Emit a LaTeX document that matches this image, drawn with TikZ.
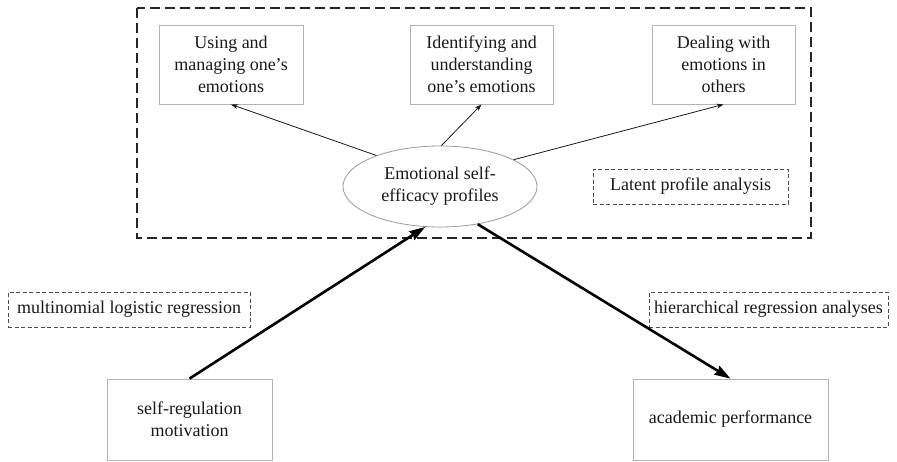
\documentclass[tikz,border=0pt]{standalone}
\usepackage{fontspec}
\setmainfont{Liberation Serif}
\usetikzlibrary{arrows.meta,shapes.geometric}
\begin{document}
\begin{tikzpicture}[x=1pt,y=-1pt,
  txt/.style={font=\fontsize{18}{22}\selectfont, text=black!90, align=center, inner sep=0pt},
  greybox/.style={txt, draw=black!30, line width=0.8pt, rectangle},
  methodbox/.style={txt, draw=black!70, line width=0.8pt, dash pattern=on 4pt off 2.5pt, rectangle},
  thinarrow/.style={draw=black!90, line width=0.8pt, -{Stealth[length=7pt,width=5pt]}},
  thickarrow/.style={draw=black, line width=2.6pt, -{Stealth[length=16pt,width=10pt,inset=1.5pt]}}]
\useasboundingbox (0,0) rectangle (897,461);
% outer dashed frame
\draw[black!85, line width=2pt, dash pattern=on 10pt off 5pt] (137,8) rectangle (811,238);
% top boxes
\node[greybox, minimum width=144pt, minimum height=79pt] (b1) at (231,64.5) {Using and\\managing one’s\\emotions};
\node[greybox, minimum width=143pt, minimum height=79pt] (b2) at (481.5,64.5) {Identifying and\\understanding\\one’s emotions};
\node[greybox, minimum width=143pt, minimum height=79pt] (b3) at (723.5,64.5) {Dealing with\\emotions in\\others};
% ellipse
\node[txt, ellipse, draw=black!40, line width=0.8pt, minimum width=194pt, minimum height=81pt] (e) at (440,186.5) {Emotional self-\\efficacy profiles};
% method labels
\node[methodbox, minimum width=195pt, minimum height=35pt] (lpa) at (690.5,186.5) {Latent profile analysis};
\node[methodbox, minimum width=242pt, minimum height=35pt] (mlr) at (129,309.5) {multinomial logistic regression};
\node[methodbox, minimum width=239pt, minimum height=35pt] (hra) at (768.5,309.5) {hierarchical regression analyses};
% bottom boxes
\node[greybox, minimum width=165pt, minimum height=81pt] (sr) at (189.5,419.5) {self-regulation\\motivation};
\node[greybox, minimum width=195pt, minimum height=81pt] (ap) at (730.5,419.5) {academic performance};
% connectors
\draw[thinarrow] (e.154) -- (b1.south);
\draw[thinarrow] (e.88) -- (b2.south);
\draw[thinarrow] (e.20) -- (b3.south);
\draw[thickarrow] (sr.north) -- (e.250);
\draw[thickarrow] (e.-45) -- (ap.north);
\end{tikzpicture}
\end{document}
